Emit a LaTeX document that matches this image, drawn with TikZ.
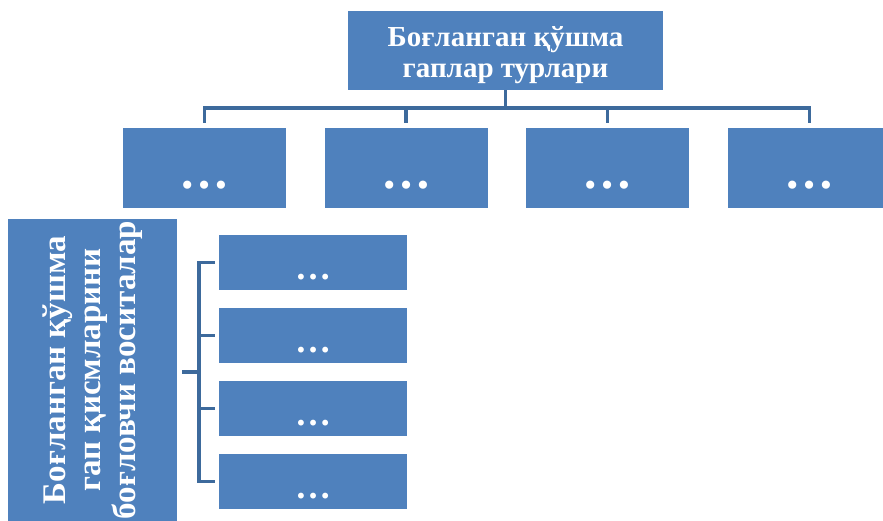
\documentclass[tikz,border=0pt]{standalone}
\usepackage{fontspec}
\setmainfont{Liberation Serif}
\usepackage{xcolor}
\usepackage{tikz}
\definecolor{boxblue}{HTML}{4F81BD}
\definecolor{lineblue}{HTML}{3D6A9C}
\tikzset{
  bluebox/.style={rectangle, fill=boxblue, text=white, inner sep=0pt},
  rowbox/.style={bluebox, minimum width=163pt, minimum height=80pt, text height=41pt, text depth=0pt, font=\bfseries\fontsize{50}{50}\selectfont},
  listbox/.style={bluebox, minimum width=188pt, minimum height=55pt, text height=33pt, text depth=0pt, font=\bfseries\fontsize{36}{36}\selectfont},
  link/.style={draw=lineblue, line width=3.5pt},
}

\begin{document}
\begin{tikzpicture}[x=1pt,y=-1pt]
			\useasboundingbox (0,0) rectangle (883,520);
			\clip (0,0) rectangle (883,520);
			\node[bluebox, minimum width=315pt, minimum height=79pt, align=center, font=\bfseries\fontsize{29}{31}\selectfont] (types) at (505.5,50.5) {\rule{0pt}{30pt}Боғланган қўшма\\гаплар турлари};
			\node[rowbox] (type1) at (204.5,168) {…};%
			\node[rowbox] (type2) at (406,168) {…};%
			\node[rowbox] (type3) at (607.5,168) {…};%
			\node[rowbox] (type4) at (809.5,168) {…};%
			\node[bluebox, rotate=90, minimum width=302pt, minimum height=169pt, align=center, font=\bfseries\fontsize{33}{35}\selectfont] (means) at (92.5,370) {Боғланган қўшма\\гап қисмларини\\боғловчи воситалар};
			\node[listbox] (mean1) at (313,262.5) {…};%
			\node[listbox] (mean2) at (313,335.5) {…};%
			\node[listbox] (mean3) at (313,408.5) {…};%
			\node[listbox] (mean4) at (313,481.5) {…};%
			% tree connectors
			\coordinate (bus) at (505.5,108);
			\draw[link] (types.south) -- (bus);
			\draw[link, shorten >=5pt] (bus) -| (type1.north);
			\draw[link, shorten >=5pt] (bus) -| (type2.north);
			\draw[link, shorten >=5pt] (bus) -| (type3.north);
			\draw[link, shorten >=5pt] (bus) -| (type4.north);
			% bracket
			\coordinate (brace) at (199,372);
			\draw[link, shorten <=5pt] (means.south |- brace) -- (brace);
			\draw[link, shorten >=4pt] (brace) |- (mean1.west);
			\draw[link, shorten >=4pt] (brace) |- (mean2.west);
			\draw[link, shorten >=4pt] (brace) |- (mean3.west);
			\draw[link, shorten >=4pt] (brace) |- (mean4.west);
		\end{tikzpicture}
\end{document}
